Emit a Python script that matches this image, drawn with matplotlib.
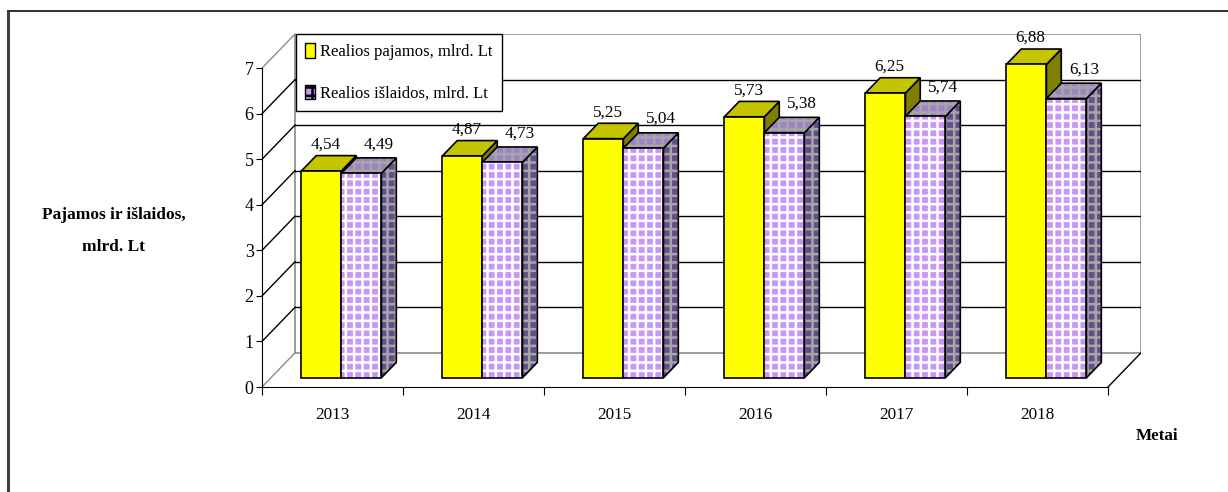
import matplotlib
matplotlib.use("Agg")
import matplotlib.pyplot as plt
from matplotlib.patches import Polygon, Patch
from matplotlib.lines import Line2D

# Data
years = ["2013", "2014", "2015", "2016", "2017", "2018"]
income = [4.54, 4.87, 5.25, 5.73, 6.25, 6.88]
expenses = [4.49, 4.73, 5.04, 5.38, 5.74, 6.13]
income_label = "Realios pajamos, mlrd. Lt"
expense_label = "Realios išlaidos, mlrd. Lt"
y_title = "Pajamos ir išlaidos,\nmlrd. Lt"
x_title = "Metai"
y_ticks = [0, 1, 2, 3, 4, 5, 6, 7]

plt.rcParams["font.family"] = ["Liberation Serif", "DejaVu Serif"]
plt.rcParams["hatch.linewidth"] = 1.8

W_PX, H_PX, DPI = 1228, 492, 100
fig = plt.figure(figsize=(W_PX / DPI, H_PX / DPI), dpi=DPI)

# pseudo-3D depth offset (data units for full wall depth)
DX, DY = 0.234, 0.75
F0, F1 = 0.27, 0.72          # bar front / back depth fractions
BW = 0.284                   # bar width per series
YMAX = 7
FS = 12.3

left, right, bottom_px, top_px = 262, 1141, 387, 34
ax = fig.add_axes([left / W_PX, (H_PX - bottom_px) / H_PX,
                   (right - left) / W_PX, (bottom_px - top_px) / H_PX])
ax.set_xlim(0, len(years) + DX)
ax.set_ylim(0, YMAX + DY)
ax.patch.set_alpha(0)

n = len(years)
grey = "#8c8c8c"

# back wall
ax.plot([DX, n + DX, n + DX, DX, DX], [DY, DY, YMAX + DY, YMAX + DY, DY],
        color=grey, lw=1.2, zorder=1)
for t in y_ticks:
    if 0 < t < YMAX:
        ax.plot([DX, n + DX], [t + DY, t + DY], color="black", lw=1, zorder=1)
# side wall diagonals
for t in y_ticks:
    c = grey if t in (0, YMAX) else "black"
    ax.plot([0, DX], [t, t + DY], color=c, lw=1, zorder=1, clip_on=False)
# floor right edge
ax.plot([n, n + DX], [0, DY], color="black", lw=1, zorder=1)

# axes lines and ticks
for s in ("top", "right"):
    ax.spines[s].set_visible(False)
ax.spines["left"].set_bounds(0, YMAX)
ax.spines["bottom"].set_bounds(0, n)
ax.set_yticks(y_ticks)
ax.set_yticklabels([str(t) for t in y_ticks], fontsize=13)
ax.tick_params(axis="y", length=4, pad=2, direction="out")
ax.set_xticks(range(n + 1))
ax.set_xticklabels([])
ax.set_xticks([i + 0.5 for i in range(n)], minor=True)
ax.set_xticklabels(years, minor=True, fontsize=FS)
ax.tick_params(axis="x", which="major", length=6, direction="out")
ax.tick_params(axis="x", which="minor", length=0, pad=14.5)

d = (F1 - F0) * DX
e = (F1 - F0) * DY
base = F0 * DY

inc_x = [i + 0.5 + F0 * DX - BW / 2 for i in range(n)]
exp_x = [i + 0.5 + F0 * DX + BW / 2 for i in range(n)]


def faces(x_center, value, top_c, side_c, hatch=None, hatch_c=None):
    x0, x1 = x_center - BW / 2, x_center + BW / 2
    yb, yt = base, base + value
    side = [(x1, yb), (x1 + d, yb + e), (x1 + d, yt + e), (x1, yt)]
    top = [(x0, yt), (x1, yt), (x1 + d, yt + e), (x0 + d, yt + e)]
    for pts, col in ((side, side_c), (top, top_c)):
        ax.add_patch(Polygon(pts, closed=True, facecolor=col,
                             edgecolor="none", zorder=3))
        if hatch:
            ax.add_patch(Polygon(pts, closed=True, facecolor="none",
                                 edgecolor=hatch_c, hatch=hatch, lw=0,
                                 zorder=3))
        ax.add_patch(Polygon(pts, closed=True, facecolor="none",
                             edgecolor="black", lw=1.2, zorder=3))


for i in range(n):
    faces(inc_x[i], income[i], "#c4c400", "#808000")
    ax.bar(inc_x[i], income[i], width=BW, bottom=base, color="#ffff00",
           edgecolor="black", lw=1.2, zorder=3)
    faces(exp_x[i], expenses[i], "#9d82c8", "#654f8a", "++", "#a6a6a6")
    ax.bar(exp_x[i], expenses[i], width=BW, bottom=base, color="#c896f8",
           edgecolor="none", zorder=3)
    ax.bar(exp_x[i], expenses[i], width=BW, bottom=base, color="none",
           edgecolor="white", hatch="++", lw=0, zorder=3)
    ax.bar(exp_x[i], expenses[i], width=BW, bottom=base, color="none",
           edgecolor="black", lw=1.2, zorder=3)
    ax.annotate(f"{income[i]:.2f}".replace(".", ","),
                (inc_x[i] + 0.03, base + income[i] + e),
                xytext=(0, 5), textcoords="offset points",
                ha="center", va="baseline", fontsize=FS, zorder=4)
    ax.annotate(f"{expenses[i]:.2f}".replace(".", ","),
                (exp_x[i] + d + 0.02, base + expenses[i] + e),
                xytext=(0, 7), textcoords="offset points",
                ha="center", va="baseline", fontsize=FS, zorder=4)

# legend
handles = [Patch(facecolor="#ffff00", edgecolor="black", lw=1),
           Patch(facecolor="#c896f8", edgecolor="black", lw=1, hatch="++")]
leg = ax.legend(handles, [income_label, expense_label], loc="upper left",
                bbox_to_anchor=((296 - left) / (right - left), 1.0),
                borderaxespad=0, fontsize=12, handlelength=0.6,
                handleheight=0.95, handletextpad=0.3, labelspacing=1.5,
                borderpad=0.55, fancybox=False, framealpha=1)
leg.get_frame().set_edgecolor("black")
leg.get_frame().set_linewidth(1)
leg.set_zorder(5)

# axis titles
ax.set_ylabel(y_title, rotation=0, fontsize=12.5, fontweight="bold",
              linespacing=2.4, ha="center", va="center")
ax.yaxis.set_label_coords((114 - left) / (right - left),
                          (bottom_px - 231) / (bottom_px - top_px))
ax.set_xlabel(x_title, fontsize=12.3, fontweight="bold")
ax.xaxis.set_label_coords((1157 - left) / (right - left),
                          (bottom_px - 428) / (bottom_px - top_px))

# outer frame
fig.add_artist(Line2D([8 / W_PX, 8 / W_PX], [0, 1 - 11 / H_PX],
                      color="#404040", lw=2.2))
fig.add_artist(Line2D([8 / W_PX, 1], [1 - 11 / H_PX, 1 - 11 / H_PX],
                      color="#303030", lw=1.4))

fig.savefig("out.png", dpi=DPI, facecolor="white")
